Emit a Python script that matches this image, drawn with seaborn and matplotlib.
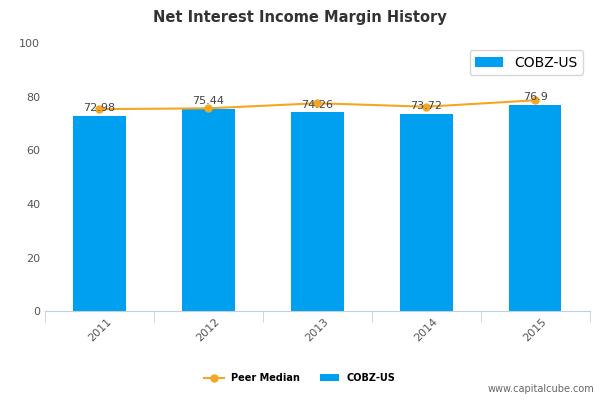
import matplotlib
matplotlib.use("Agg")
import matplotlib.pyplot as plt
import seaborn as sns
import pandas as pd

years = ["2011", "2012", "2013", "2014", "2015"]
cobz = [72.98, 75.44, 74.26, 73.72, 76.9]
peer = [75.4, 75.7, 77.6, 76.3, 78.7]

df = pd.DataFrame({"year": years, "COBZ-US": cobz, "Peer Median": peer})

fig = plt.figure(figsize=(6, 4), dpi=100)
ax = fig.add_axes([0.075, 0.222, 0.908, 0.67])
sns.barplot(data=df, x="year", y="COBZ-US", color="#00a0f0", width=0.48, ax=ax, saturation=1, label="COBZ-US")
ax.plot(range(len(years)), peer, color="#f5a623", marker="o", markersize=5, lw=1.5, label="Peer Median")
for i, v in enumerate(cobz):
    ax.text(i, v + 1, f"{v:g}", ha="center", va="bottom", fontsize=8, color="#444444")
ax.set_ylim(0, 100)
ax.set_xlim(-0.5, 4.5)
ax.set_yticks([0, 20, 40, 60, 80, 100])
ax.set_xlabel("")
ax.set_ylabel("")
for s in ["top", "right", "left"]:
    ax.spines[s].set_visible(False)
ax.spines["bottom"].set_color("#c0d0e0")
ax.tick_params(axis="y", length=0, labelsize=8, colors="#555555")
ax.tick_params(axis="x", labelsize=8, colors="#555555", rotation=45, length=8, color="#c0d0e0")
ax.set_xticks([x for x in [-0.5, 0.5, 1.5, 2.5, 3.5, 4.5]], minor=True)
ax.tick_params(axis="x", which="minor", length=8, color="#c0d0e0")
ax.tick_params(axis="x", which="major", length=0)
fig.suptitle("Net Interest Income Margin History", x=0.5, y=0.975, fontsize=10.5, fontweight="bold", color="#333333")
fig.legend(loc="lower center", bbox_to_anchor=(0.5, 0.02), ncol=2, frameon=False, fontsize=7, prop={"weight": "bold", "size": 7})
fig.text(0.99, 0.02, "www.capitalcube.com", ha="right", fontsize=7, color="#666666")
fig.savefig("out.png", dpi=100)
